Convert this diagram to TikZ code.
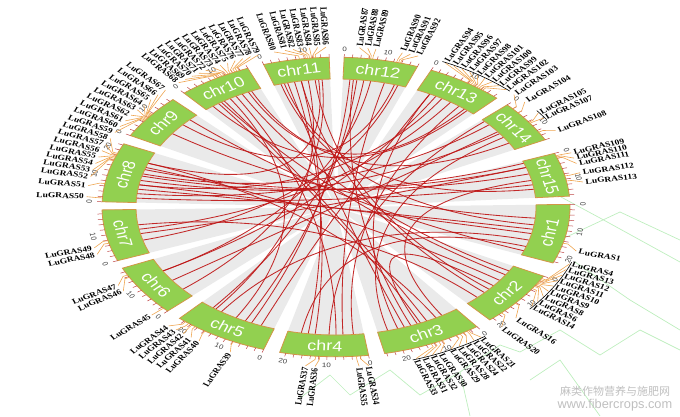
\documentclass[tikz,border=0pt]{standalone}
\usepackage{fontspec}
\setmainfont{Liberation Serif}
\setsansfont{Liberation Sans}
\newfontfamily\cjkfont{Noto Sans CJK SC}
\usetikzlibrary{calc}

\definecolor{chrgreen}{RGB}{146,208,80}
\definecolor{chredge}{RGB}{210,150,70}
\definecolor{linkred}{RGB}{190,20,20}
\definecolor{genetan}{RGB}{238,165,80}
\definecolor{tickred}{RGB}{190,70,70}
\definecolor{fangray}{RGB}{234,234,234}
\definecolor{markgreen}{RGB}{190,238,190}

\tikzset{
  chrbox/.style={fill=chrgreen, draw=chredge, line width=0.8pt},
  chrlabel/.style={text=white, font=\sffamily\fontsize{18}{18}\selectfont, inner sep=0pt},
  genelabel/.style={font=\bfseries\fontsize{9.5}{9.5}\selectfont, inner sep=0.5pt},
  geneline/.style={draw=genetan, line width=0.6pt},
  tickline/.style={draw=tickred, line width=0.5pt},
  ticknum/.style={font=\sffamily\fontsize{8}{8}\selectfont, text=black!75, inner sep=0pt},
  linkline/.style={draw=linkred, line width=0.85pt, opacity=0.9},
  bracketline/.style={draw=black, line width=0.6pt},
  markline/.style={draw=markgreen, line width=0.7pt},
  marktext/.style={text=black!25, inner sep=0pt},
}

% radii of the ring (x units; y is squeezed)
\newcommand{\radin}{200}
\newcommand{\radout}{234}
\newcommand{\radlab}{252}

% name/start angle/length
\newcommand{\chrlist}{1/1/22.5, 2/-27.5/21, 3/-53/24.5, 4/-82/21.5, 5/-108/23.5,
  6/-136/19.5, 7/-159/19.5, 8/178/22.5, 9/151.5/17, 10/130.5/18, 11/108/16,
  12/88/18, 13/66/19, 14/43/16, 15/21/16.5}

% gene position/label angle/number
\newcommand{\genelist}{-14/-16/1,
  -28.5/-20.8/4, -29/-23/13, -29.5/-25.2/12, -30/-27.4/11, -30.5/-29.6/10,
  -31/-31.8/9, -31.5/-34/8, -32/-36.2/6, -33/-38.4/14, -40/-44/16, -45/-48.5/20,
  -55.5/-54.5/21, -56/-56.5/22, -57/-58.5/24, -58/-60.5/28, -59/-62.5/29,
  -63/-65.3/30, -64/-67.3/32, -65/-69.3/31, -66/-71.3/33,
  -84/-82.5/34, -85/-84.7/35, -94/-94.8/36, -95/-97/37,
  -116/-115/39, -124/-123.2/40, -127/-125.4/41, -128/-127.6/42, -129/-129.8/43, -130/-132/44,
  -137.5/-137.5/45, -152/-148.3/46, -153/-150.6/47,
  -166/-162.8/48, -167/-165.2/49,
  176.5/176.3/50, 171/172.3/51, 162/169/52, 161.5/166.6/53, 161/164.2/54, 160.5/161.8/55,
  160/159.4/56, 159.5/157/57, 159/154.6/58,
  145/152.2/59, 144.6/149.8/60, 144.2/147.4/61, 143.8/145/62, 143.4/142.6/63,
  143/140.2/64, 142.6/137.8/65, 142.2/135.4/66, 141.8/133/67,
  121/129/68, 120.4/127.1/69, 119.8/125.2/70, 119.2/123.3/71, 118.6/121.4/72, 118/119.5/73,
  117.4/117.6/74, 116.8/115.7/75, 116.2/113.8/76, 115.6/111.9/77, 115/110/78, 114.4/108.1/79,
  99/104.3/80, 97.5/101.8/81, 97/99.9/82, 96.5/98/83, 96/96.1/84, 95.5/94.2/85, 95/92.3/86,
  82/84.6/87, 81.5/82.7/88, 81/80.8/89, 75/74.6/90, 74.5/72.7/91, 74/70.8/92,
  56/64/94, 55.4/61.9/95, 54.8/59.8/96, 54.2/57.7/97, 53.6/55.6/98, 53/53.5/101,
  52.4/51.4/100, 51.8/49.3/99, 51.2/47.2/102,
  41/44.6/103, 39/41/104, 34.5/36/105, 34/33.8/107, 30/28.5/108,
  20/19.8/109, 19.5/17.8/110, 19/15.8/111, 12/12.4/112, 10/9/113}

% link ends (angles)
\newcommand{\linklist}{172/-10, 170/-12, 168/20, 166/18, 174/35, 162/-35, 160/-60, 176/10,
  126/-65, 124/-63, 120/-90, 118/-30, 116/50, 122/-120,
  104/-70, 102/-96, 100/-98, 98/-127, 96/-40, 95/160, 94/-140,
  86/-115, 84/-117, 80/-150, 76/-88, 73/140, 72/-165,
  62/-112, 58/170, 55/-170, 52/-85, 49/128,
  40/165, 36/-145, 33/-75, 30/115,
  18/-168, 15/163, 12/-58, 8/105,
  -5/145, -15/-125, -18/-100, -8/106,
  -32/125, -38/-66, -42/100, -45/-172,
  -68/85, -72/62, -92/42, -128/82, -150/60, 137/-20}

\begin{document}
\begin{tikzpicture}[x=1pt, y=1pt]
\useasboundingbox (0,-416) rectangle (680,0);

% watermark outline
\draw[markline] (548,-190) -- (600,-218) -- (680,-262);
\draw[markline] (560,-240) -- (620,-212) -- (680,-240);
\draw[markline] (575,-262) -- (630,-300) -- (680,-330);
\draw[markline] (520,-352) -- (560,-330) -- (600,-355) -- (640,-330) -- (680,-350);
\draw[markline] (530,-380) -- (560,-360) -- (600,-416);
\draw[markline] (300,-398) -- (330,-375) -- (350,-395) -- (390,-370) -- (420,-395) -- (460,-372) -- (470,-416);
\draw[markline] (460,-372) -- (500,-345) -- (520,-352);

\begin{scope}[shift={(336,-207)}, yscale=0.8, transform shape]
\coordinate (ctr) at (0,0);

% grey fans
\foreach \nm/\st/\len in \chrlist {
  \pgfmathsetmacro\en{\st-1.02*\len}
  \fill[fangray] (ctr) -- ({\radin*cos(\st)},{0.8*\radin*sin(\st)})
    arc[start angle=\st, end angle=\en, x radius=\radin, y radius=0.8*\radin] -- cycle;
}

% links
\foreach \pa/\pb in \linklist {
  \coordinate (la) at ({\radin*cos(\pa)},{0.8*\radin*sin(\pa)});
  \coordinate (lb) at ({\radin*cos(\pb)},{0.8*\radin*sin(\pb)});
  \draw[linkline] (la) .. controls ($(la)!0.667!(ctr)$) and ($(lb)!0.667!(ctr)$) .. (lb);
}

% chromosomes, ticks, numbers
\foreach \nm/\st/\len in \chrlist {
  \pgfmathsetmacro\en{\st-1.02*\len}
  \pgfmathsetmacro\md{(\st+\en)/2}
  \draw[chrbox] ({\radin*cos(\st)},{0.8*\radin*sin(\st)}) -- ({\radout*cos(\st)},{0.8*\radout*sin(\st)})
    arc[start angle=\st, end angle=\en, x radius=\radout, y radius=0.8*\radout]
    -- ({\radin*cos(\en)},{0.8*\radin*sin(\en)})
    arc[start angle=\en, end angle=\st, x radius=\radin, y radius=0.8*\radin] -- cycle;
  \pgfmathsetmacro\rot{atan2(0.8*cos(\md),-sin(\md))}
  \pgfmathsetmacro\rot{\rot-180*(\rot>90)+180*(\rot<-90)}
  \node[chrlabel, rotate=\rot] (chr\nm) at ({217*cos(\md)},{0.8*217*sin(\md)}) {chr\nm};
  \pgfmathtruncatemacro\lenint{\len}
  \foreach \u in {0,2,...,\lenint} {
    \pgfmathsetmacro\ta{\st-1.02*\u}
    \draw[tickline] ({\radout*cos(\ta)},{0.8*\radout*sin(\ta)}) -- ({(\radout+5)*cos(\ta)},{0.8*(\radout+5)*sin(\ta)});
  }
  \foreach \u in {0,10,20} {
    \ifdim \u pt < \len pt
      \pgfmathsetmacro\ta{\st-1.02*\u}
      \pgfmathsetmacro\trot{atan2(0.8*cos(\ta),-sin(\ta))}
      \pgfmathsetmacro\trot{\trot-180*(\trot>90)+180*(\trot<-90)}
      \node[ticknum, rotate=\trot] (n\nm-\u) at ({(\radout+13)*cos(\ta)},{0.8*(\radout+13)*sin(\ta)}) {\u};
    \fi
  }
}

% gene lines and labels
\foreach \gp/\gl/\gn in \genelist {
  \coordinate (gs) at ({\radout*cos(\gp)},{0.8*\radout*sin(\gp)});
  \coordinate (gk) at ({(\radout+5)*cos(\gp)},{0.8*(\radout+5)*sin(\gp)});
  \coordinate (ge) at ({(\radlab-2)*cos(\gl)},{0.8*(\radlab-2)*sin(\gl)});
  \draw[geneline] (gs) -- (gk) -- (ge);
  \pgfmathtruncatemacro\flip{cos(\gl)<0}
  \ifnum\flip=1
    \pgfmathsetmacro\rr{atan2(-0.8*sin(\gl),-cos(\gl))}\def\anc{east}
  \else
    \pgfmathsetmacro\rr{atan2(0.8*sin(\gl),cos(\gl))}\def\anc{west}
  \fi
  \node[genelabel, rotate=\rr, anchor=\anc] (g\gn) at ({\radlab*cos(\gl)},{0.8*\radlab*sin(\gl)}) {LuGRAS\gn};
}

% brackets in front of crowded labels
\foreach \ba/\bb in {-20.1/-39.5, -53.6/-72.2, 64.9/46.2, 36.9/32.9} {
  \draw[bracketline] ({(\radlab-1)*cos(\ba)},{0.8*(\radlab-1)*sin(\ba)})
    arc[start angle=\ba, end angle=\bb, x radius=\radlab-1, y radius=0.8*(\radlab-1)];
}
\end{scope}

% watermark text
\node[marktext, font=\cjkfont\fontsize{11}{11}\selectfont] (wmcn) at (615,-391) {麻类作物营养与施肥网};
\node[marktext, font=\sffamily\fontsize{12.8}{12.8}\selectfont] (wmurl) at (615,-405) {www.fibercrops.com};
\end{tikzpicture}
\end{document}
